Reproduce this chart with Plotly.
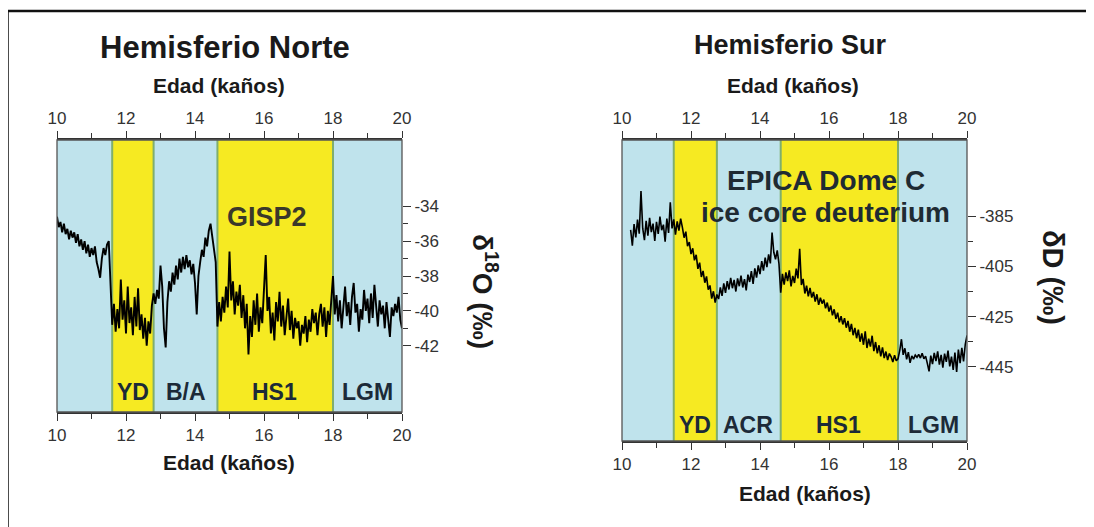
import plotly.graph_objects as go

# ---------------- data ----------------
# GISP2 delta18O (per mil) vs age (ka)
gisp2 = [
    (10.00, -34.6), (10.05, -35.2), (10.10, -34.9), (10.15, -35.5), (10.20, -35.0),
    (10.25, -35.6), (10.30, -35.3), (10.35, -35.9), (10.40, -35.4), (10.45, -35.8),
    (10.50, -35.5), (10.55, -36.1), (10.60, -35.6), (10.65, -36.3), (10.70, -35.9),
    (10.75, -36.5), (10.80, -36.0), (10.85, -36.7), (10.90, -36.2), (10.95, -36.9),
    (11.00, -36.4), (11.05, -36.8), (11.10, -36.3), (11.15, -37.2), (11.20, -37.6),
    (11.25, -38.1), (11.30, -37.0), (11.35, -36.4), (11.40, -36.8), (11.45, -36.2),
    (11.50, -36.0), (11.55, -38.5), (11.60, -40.8), (11.65, -39.6), (11.70, -41.2),
    (11.75, -39.9), (11.80, -41.0), (11.85, -38.2), (11.90, -40.5), (11.95, -39.4),
    (12.00, -41.3), (12.05, -38.6), (12.10, -40.7), (12.15, -39.8), (12.20, -41.4),
    (12.25, -39.2), (12.30, -40.9), (12.35, -38.7), (12.40, -41.1), (12.45, -40.2),
    (12.50, -41.6), (12.55, -40.4), (12.60, -42.0), (12.65, -40.6), (12.70, -41.3),
    (12.75, -39.7), (12.80, -39.0), (12.85, -39.6), (12.90, -38.8), (12.95, -39.3),
    (13.00, -37.4), (13.05, -38.6), (13.10, -41.0), (13.15, -42.1), (13.20, -39.5),
    (13.25, -38.3), (13.30, -38.9), (13.35, -37.8), (13.40, -38.5), (13.45, -37.4),
    (13.50, -38.2), (13.55, -37.0), (13.60, -37.8), (13.65, -36.9), (13.70, -37.6),
    (13.75, -36.8), (13.80, -37.5), (13.85, -37.1), (13.90, -37.9), (13.95, -37.3),
    (14.00, -38.4), (14.05, -40.2), (14.10, -38.0), (14.15, -37.2), (14.20, -36.5),
    (14.25, -36.9), (14.30, -35.8), (14.35, -36.3), (14.40, -35.4), (14.45, -35.0),
    (14.50, -35.7), (14.55, -36.4), (14.60, -37.2), (14.65, -40.9), (14.70, -39.5),
    (14.75, -40.6), (14.80, -39.2), (14.85, -40.1), (14.90, -38.6), (14.95, -39.8),
    (15.00, -36.6), (15.05, -39.4), (15.10, -38.3), (15.15, -40.2), (15.20, -38.9),
    (15.25, -39.7), (15.30, -38.5), (15.35, -40.4), (15.40, -39.1), (15.45, -41.0),
    (15.50, -39.6), (15.55, -42.5), (15.60, -40.3), (15.65, -41.5), (15.70, -39.4),
    (15.75, -40.8), (15.80, -39.0), (15.85, -41.2), (15.90, -39.8), (15.95, -40.7),
    (16.00, -38.6), (16.05, -36.8), (16.10, -40.0), (16.15, -39.2), (16.20, -41.3),
    (16.25, -40.1), (16.30, -41.7), (16.35, -39.5), (16.40, -40.6), (16.45, -38.9),
    (16.50, -40.9), (16.55, -39.7), (16.60, -41.4), (16.65, -40.2), (16.70, -39.3),
    (16.75, -41.1), (16.80, -40.0), (16.85, -41.6), (16.90, -40.4), (16.95, -41.0),
    (17.00, -40.6), (17.05, -42.0), (17.10, -40.8), (17.15, -41.3), (17.20, -40.3),
    (17.25, -41.8), (17.30, -40.5), (17.35, -41.2), (17.40, -39.9), (17.45, -40.7),
    (17.50, -40.1), (17.55, -41.4), (17.60, -40.2), (17.65, -39.6), (17.70, -40.9),
    (17.75, -39.8), (17.80, -41.5), (17.85, -40.0), (17.90, -40.8), (17.95, -39.4),
    (18.00, -38.0), (18.05, -40.2), (18.10, -39.1), (18.15, -40.6), (18.20, -39.4),
    (18.25, -41.0), (18.30, -39.8), (18.35, -38.6), (18.40, -40.3), (18.45, -39.5),
    (18.50, -40.8), (18.55, -39.2), (18.60, -38.4), (18.65, -40.1), (18.70, -39.6),
    (18.75, -41.2), (18.80, -39.9), (18.85, -40.5), (18.90, -38.8), (18.95, -40.0),
    (19.00, -39.3), (19.05, -40.7), (19.10, -39.0), (19.15, -40.4), (19.20, -38.5),
    (19.25, -39.8), (19.30, -40.9), (19.35, -39.4), (19.40, -40.2), (19.45, -39.7),
    (19.50, -41.0), (19.55, -39.5), (19.60, -40.6), (19.65, -41.5), (19.70, -39.8),
    (19.75, -40.3), (19.80, -39.6), (19.85, -40.1), (19.90, -39.2), (19.95, -40.5),
    (20.00, -41.0),
]

# EPICA Dome C deltaD (per mil) vs age (ka)
epica = [
    (10.25, -390.5), (10.30, -396.8), (10.35, -388.2), (10.40, -393.5), (10.45, -386.4),
    (10.50, -392.0), (10.55, -375.0), (10.60, -389.8), (10.65, -394.6), (10.70, -386.9),
    (10.75, -392.8), (10.80, -385.7), (10.85, -391.4), (10.90, -388.0), (10.95, -394.9),
    (11.00, -387.3), (11.05, -392.1), (11.10, -385.2), (11.15, -390.6), (11.20, -388.4),
    (11.25, -395.2), (11.30, -386.0), (11.35, -391.7), (11.40, -379.5), (11.45, -389.9),
    (11.50, -386.3), (11.55, -392.4), (11.60, -387.1), (11.65, -390.8), (11.70, -386.0),
    (11.75, -389.5), (11.80, -393.6), (11.85, -391.2), (11.90, -397.0), (11.95, -395.3),
    (12.00, -400.1), (12.05, -397.8), (12.10, -402.6), (12.15, -400.4), (12.20, -406.0),
    (12.25, -403.5), (12.30, -409.2), (12.35, -406.8), (12.40, -411.5), (12.45, -409.0),
    (12.50, -414.3), (12.55, -412.6), (12.60, -417.8), (12.65, -414.9), (12.70, -419.4),
    (12.75, -416.2), (12.80, -418.0), (12.85, -413.4), (12.90, -416.7), (12.95, -411.8),
    (13.00, -415.5), (13.05, -410.9), (13.10, -414.2), (13.15, -409.6), (13.20, -413.7),
    (13.25, -410.4), (13.30, -415.0), (13.35, -409.8), (13.40, -412.9), (13.45, -408.7),
    (13.50, -413.4), (13.55, -410.1), (13.60, -414.6), (13.65, -408.3), (13.70, -411.2),
    (13.75, -406.9), (13.80, -412.0), (13.85, -405.8), (13.90, -409.5), (13.95, -404.6),
    (14.00, -408.1), (14.05, -402.9), (14.10, -406.7), (14.15, -401.5), (14.20, -405.3),
    (14.25, -400.2), (14.30, -403.8), (14.35, -391.5), (14.40, -399.4), (14.45, -402.2),
    (14.50, -398.6), (14.55, -404.0), (14.60, -415.5), (14.65, -408.0), (14.70, -412.3),
    (14.75, -407.4), (14.80, -410.9), (14.85, -406.6), (14.90, -413.0), (14.95, -408.8),
    (15.00, -411.6), (15.05, -405.9), (15.10, -409.8), (15.15, -398.0), (15.20, -412.4),
    (15.25, -410.0), (15.30, -415.8), (15.35, -412.7), (15.40, -416.9), (15.45, -413.6),
    (15.50, -417.4), (15.55, -415.2), (15.60, -419.0), (15.65, -416.1), (15.70, -420.3),
    (15.75, -417.5), (15.80, -419.8), (15.85, -418.2), (15.90, -421.7), (15.95, -419.4),
    (16.00, -423.0), (16.05, -420.6), (16.10, -424.5), (16.15, -422.1), (16.20, -425.9),
    (16.25, -423.4), (16.30, -427.3), (16.35, -424.8), (16.40, -428.1), (16.45, -425.6),
    (16.50, -429.4), (16.55, -426.7), (16.60, -431.0), (16.65, -427.9), (16.70, -432.4),
    (16.75, -429.5), (16.80, -433.6), (16.85, -430.2), (16.90, -435.0), (16.95, -431.7),
    (17.00, -436.2), (17.05, -430.9), (17.10, -437.5), (17.15, -433.8), (17.20, -436.9),
    (17.25, -432.6), (17.30, -438.7), (17.35, -435.1), (17.40, -439.6), (17.45, -436.4),
    (17.50, -440.8), (17.55, -437.2), (17.60, -441.5), (17.65, -438.9), (17.70, -442.3),
    (17.75, -439.7), (17.80, -441.0), (17.85, -443.1), (17.90, -440.4), (17.95, -442.6),
    (18.00, -441.8), (18.05, -438.5), (18.10, -434.0), (18.15, -440.2), (18.20, -437.6),
    (18.25, -442.0), (18.30, -439.1), (18.35, -443.4), (18.40, -440.6), (18.45, -441.9),
    (18.50, -440.3), (18.55, -441.2), (18.60, -440.0), (18.65, -441.5), (18.70, -439.6),
    (18.75, -441.8), (18.80, -440.7), (18.85, -443.6), (18.90, -446.8), (18.95, -440.5),
    (19.00, -443.9), (19.05, -439.4), (19.10, -442.7), (19.15, -438.8), (19.20, -444.1),
    (19.25, -440.2), (19.30, -445.3), (19.35, -439.7), (19.40, -443.0), (19.45, -438.5),
    (19.50, -444.8), (19.55, -440.9), (19.60, -446.2), (19.65, -439.3), (19.70, -447.0),
    (19.75, -438.1), (19.80, -443.5), (19.85, -437.4), (19.90, -442.8), (19.95, -436.0),
    (20.00, -432.5),
]

# climate periods (band edges in ka) and labels
north_edges = [10.0, 11.6, 12.8, 14.65, 18.0, 20.0]
north_labels = ["", "YD", "B/A", "HS1", "LGM"]
north_label_x = [None, 12.2, 13.75, 16.3, 19.0]
south_edges = [10.0, 11.5, 12.75, 14.6, 18.0, 20.0]
south_labels = ["", "YD", "ACR", "HS1", "LGM"]
south_label_x = [None, 12.12, 13.66, 16.27, 19.02]

age_ticks = [10, 12, 14, 16, 18, 20]
age_minor = [11, 13, 15, 17, 19]
north_yticks = [-34, -36, -38, -40, -42]
north_yminor = [-35, -37, -39, -41]
south_yticks = [-385, -405, -425, -445]
south_yminor = [-395, -415, -435]

# ---------------- styling ----------------
# the page body adds an 8px margin, so the figure is drawn 8px smaller and
# every target page-pixel position is shifted by OFF
OFF = 8
PW, PH = 1094, 527
W, H = PW - OFF, PH - OFF
BLUE = "#BFE3EC"
YELLOW = "#F6EA22"
EDGE = "#7FAE6E"
AXC = "#333333"
FONT = "Liberation Sans"
band_colors = [BLUE, YELLOW, BLUE, YELLOW, BLUE]

# plot rectangles in page pixels (left, right, top, bottom)
NP = (57, 402, 140, 412)
SP = (622, 967, 140, 441)


def fx(px):
    return (px - OFF) / W


def fy(py):
    return 1 - (py - OFF) / H


fig = go.Figure()

fig.add_trace(go.Scatter(x=[p[0] for p in gisp2], y=[p[1] for p in gisp2],
                         mode="lines", line=dict(color="black", width=1.9),
                         xaxis="x", yaxis="y", showlegend=False, hoverinfo="skip"))
fig.add_trace(go.Scatter(x=[p[0] for p in epica], y=[p[1] for p in epica],
                         mode="lines", line=dict(color="black", width=1.6),
                         xaxis="x3", yaxis="y2", showlegend=False, hoverinfo="skip"))
# invisible traces so that the top axes are drawn
fig.add_trace(go.Scatter(x=[10], y=[-40], xaxis="x2", yaxis="y", mode="markers",
                         marker=dict(opacity=0), showlegend=False, hoverinfo="skip"))
fig.add_trace(go.Scatter(x=[10], y=[-420], xaxis="x4", yaxis="y2", mode="markers",
                         marker=dict(opacity=0), showlegend=False, hoverinfo="skip"))

tickfont = dict(family=FONT, size=17, color=AXC)
xcommon = dict(range=[10, 20], tickvals=age_ticks, ticktext=[str(v) for v in age_ticks],
               ticks="outside", ticklen=7, tickwidth=1.3,
               tickcolor=AXC, showline=True, linecolor=AXC, linewidth=1.5, showgrid=False,
               zeroline=False, tickfont=tickfont, fixedrange=True, automargin=False,
               minor=dict(tickvals=age_minor, ticks="outside", ticklen=5,
                          tickwidth=1.3, tickcolor=AXC, showgrid=False))


def ycommon(rng, major, minor):
    return dict(range=rng, tickvals=major, ticktext=[str(v) for v in major],
                ticks="outside", ticklen=8, tickwidth=1.3, tickcolor=AXC,
                showline=False, showgrid=False, zeroline=False, tickfont=tickfont,
                fixedrange=True, automargin=False, side="right",
                minor=dict(tickvals=minor, ticks="outside", ticklen=5,
                           tickwidth=1.3, tickcolor=AXC, showgrid=False))


fig.update_layout(
    width=W, height=H, margin=dict(l=0, r=0, t=0, b=0, autoexpand=False),
    paper_bgcolor="white", plot_bgcolor="rgba(0,0,0,0)", showlegend=False,
    xaxis=dict(domain=[fx(NP[0]), fx(NP[1])], anchor="y", side="bottom", **xcommon),
    xaxis2=dict(domain=[fx(NP[0]), fx(NP[1])], anchor="y", side="top", overlaying="x",
                matches="x", **xcommon),
    yaxis=dict(domain=[fy(NP[3]), fy(NP[2])], anchor="x",
               **ycommon([-45.8, -30.2], north_yticks, north_yminor)),
    xaxis3=dict(domain=[fx(SP[0]), fx(SP[1])], anchor="y2", side="bottom", **xcommon),
    xaxis4=dict(domain=[fx(SP[0]), fx(SP[1])], anchor="y2", side="top", overlaying="x3",
                matches="x3", **xcommon),
    yaxis2=dict(domain=[fy(SP[3]), fy(SP[2])], anchor="x3",
                **ycommon([-474.5, -354.7], south_yticks, south_yminor)),
)

shapes = []


def add_bands(edges, xref, yref):
    for i in range(len(edges) - 1):
        shapes.append(dict(type="rect", xref=xref, yref=yref + " domain",
                           x0=edges[i], x1=edges[i + 1], y0=0, y1=1,
                           fillcolor=band_colors[i], line=dict(width=0), layer="below"))
    for e in edges[1:-1]:
        shapes.append(dict(type="line", xref=xref, yref=yref + " domain",
                           x0=e, x1=e, y0=0, y1=1,
                           line=dict(color=EDGE, width=2), layer="below"))
    shapes.append(dict(type="rect", xref=xref + " domain", yref=yref + " domain",
                       x0=0, x1=1, y0=0, y1=1, line=dict(color="#555555", width=1.3),
                       layer="above"))


add_bands(north_edges, "x", "y")
add_bands(south_edges, "x3", "y2")

# outer page frame (top and left edges)
shapes.append(dict(type="line", xref="paper", yref="paper", x0=fx(7.5), x1=1,
                   y0=fy(11), y1=fy(11), line=dict(color="#111111", width=2.5)))
shapes.append(dict(type="line", xref="paper", yref="paper", x0=fx(7.5), x1=fx(7.5),
                   y0=0, y1=fy(11), line=dict(color="#111111", width=2.5)))
fig.update_layout(shapes=shapes)

ann = []


def text(x, y, s, size, angle=0, color="#1a1a1a"):
    ann.append(dict(x=fx(x), y=fy(y), xref="paper", yref="paper", text="<b>%s</b>" % s,
                    showarrow=False, xanchor="center", yanchor="middle", textangle=angle,
                    font=dict(family=FONT, size=size, color=color)))


def dtext(x, y, xref, yref, s, size, color):
    ann.append(dict(x=x, y=y, xref=xref, yref=yref, text="<b>%s</b>" % s,
                    showarrow=False, xanchor="center", yanchor="middle",
                    font=dict(family=FONT, size=size, color=color)))


ncx = (NP[0] + NP[1]) / 2
scx = (SP[0] + SP[1]) / 2
text(ncx - 5, 47, "Hemisferio Norte", 31)
text(scx - 4, 45, "Hemisferio Sur", 27)
text(ncx - 11, 85, "Edad (kaños)", 21)
text(scx - 2, 85, "Edad (kaños)", 21)
text(ncx - 1, 462, "Edad (kaños)", 21)
text(scx + 10, 493, "Edad (kaños)", 21)
text(485, 291, "δ<sup>18</sup>O (‰)", 28, angle=90)
text(1053, 277, "δD (‰)", 29, angle=90)

# band labels (data x, domain y)
for lab, lx in zip(north_labels, north_label_x):
    if lab:
        dtext(lx, 0.074, "x", "y domain", lab, 23, "#1c2a38")
for lab, lx in zip(south_labels, south_label_x):
    if lab:
        dtext(lx, 0.052, "x3", "y2 domain", lab, 23, "#1c2a38")

dtext(16.1, 0.717, "x", "y domain", "GISP2", 27, "#3a382a")
dtext(15.9, 0.866, "x3", "y2 domain", "EPICA Dome C", 28, "#1f2b33")
dtext(15.9, 0.76, "x3", "y2 domain", "ice core deuterium", 28, "#1f2b33")

fig.update_layout(annotations=ann)
fig.write_html("out.html")
